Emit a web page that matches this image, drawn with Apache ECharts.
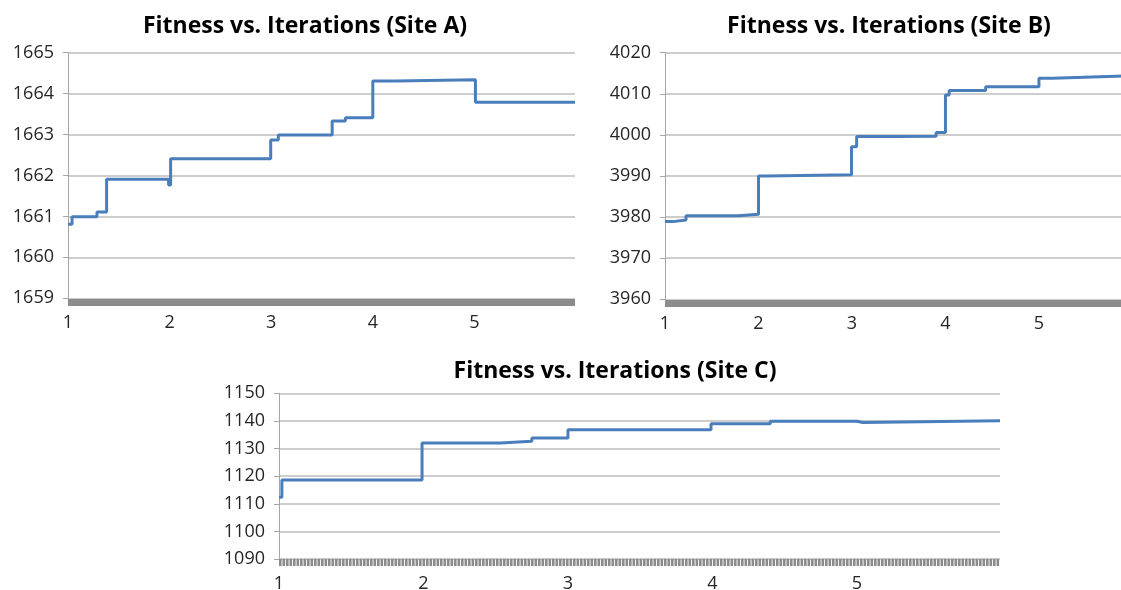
<!DOCTYPE html>
<html>
<head>
<meta charset="utf-8">
<script src="https://cdn.jsdelivr.net/npm/echarts@6/dist/echarts.min.js"></script>
<style>
  html, body { margin: 0; padding: 0; background: #ffffff; overflow: hidden; width: 1121px; height: 590px; }
  #chart { width: 1160px; height: 590px; }
</style>
</head>
<body>
<div id="chart"></div>
<script>
// ---- Data ----
const titles = ['Fitness vs. Iterations (Site A)', 'Fitness vs. Iterations (Site B)', 'Fitness vs. Iterations (Site C)'];

// Site A: iteration positions where the fitness changes, and the fitness value
const xA = [1, 1.04, 1.285, 1.38, 1.99, 2.01, 2.995, 3.07, 3.6, 3.73, 4.0, 4.23, 5.01, 5.99];
const yA = [1660.81, 1660.99, 1661.11, 1661.91, 1661.77, 1662.41, 1662.87, 1662.99, 1663.33, 1663.41, 1664.31, 1664.34, 1663.79, 1663.79];

// Site B
const xB = [1, 1.085, 1.225, 1.78, 2.0, 2.09, 2.995, 3.05, 3.51, 3.9, 4.0, 4.04, 4.43, 5.0, 5.15, 5.57, 5.99];
const yB = [3978.9, 3979.3, 3980.3, 3980.7, 3990.0, 3990.3, 3997.1, 3999.6, 3999.7, 4000.6, 4009.7, 4010.8, 4011.7, 4013.8, 4014.1, 4014.4, 4014.4];

// Site C
const xC = [1, 1.02, 1.99, 2.53, 2.75, 3.0, 3.99, 4.4, 5.0, 5.04, 5.99];
const yC = [1112.4, 1118.6, 1132.0, 1132.6, 1133.8, 1136.8, 1139.0, 1139.9, 1139.4, 1140.1, 1140.1];

// Axis ranges / ticks
const yRanges = [
  { min: 1659, max: 1665, interval: 1 },
  { min: 3960, max: 4020, interval: 10 },
  { min: 1090, max: 1150, interval: 10 }
];
const xRange = { min: 1, max: 5.99, interval: 1 };

// ---- Styling ----
const FONT = '"Open Sans", Lato, "DejaVu Sans", sans-serif';
const lineColor = '#4a7ebb';
const gridBoxes = [
  { left: 68, top: 52.7, width: 507, height: 245.6 },
  { left: 665, top: 52.7, width: 466.5, height: 246.6 },
  { left: 279, top: 393.3, width: 721, height: 165.7 }
];
const titlePos = [[305, 26], [889, 26], [615, 371]];
const pairs = (xs, ys) => xs.map((x, i) => [x, ys[i]]);
const seriesData = [pairs(xA, yA), pairs(xB, yB), pairs(xC, yC)];

const chart = echarts.init(document.getElementById('chart'), null, { renderer: 'canvas' });

const option = {
  animation: false,
  backgroundColor: '#ffffff',
  graphic: titles.map((t, i) => ({
    type: 'text',
    x: titlePos[i][0],
    y: titlePos[i][1],
    style: {
      text: t,
      fill: '#000000',
      font: 'bold 23px ' + FONT,
      textAlign: 'center',
      textVerticalAlign: 'middle'
    }
  })),
  grid: gridBoxes.map(g => Object.assign({ containLabel: false, outerBoundsMode: 'none' }, g)),
  xAxis: [0, 1, 2].map(i => ({
    type: 'value',
    gridIndex: i,
    min: xRange.min,
    max: xRange.max,
    interval: xRange.interval,
    offset: 3.5,
    axisLine: {
      show: true,
      onZero: false,
      lineStyle: i === 2
        ? { color: '#8c8c8c', width: 7, type: [2.6, 0.9], cap: 'butt' }
        : { color: '#8c8c8c', width: 7, cap: 'butt' }
    },
    axisTick: { show: false },
    splitLine: { show: false },
    axisLabel: {
      margin: i === 2 ? 12.5 : 12,
      showMaxLabel: false,
      fontFamily: FONT,
      fontSize: 18,
      color: '#262626',
      formatter: v => String(v)
    }
  })),
  yAxis: [0, 1, 2].map(i => ({
    type: 'value',
    gridIndex: i,
    min: yRanges[i].min,
    max: yRanges[i].max,
    interval: yRanges[i].interval,
    axisLine: { show: true, lineStyle: { color: '#a6a6a6', width: 1 } },
    axisTick: { show: true, length: 5, lineStyle: { color: '#a6a6a6' } },
    splitLine: { show: true, lineStyle: { color: '#bcbcbc', width: 1.5 } },
    axisLabel: {
      margin: 14,
      fontFamily: FONT,
      fontSize: 18,
      color: '#262626',
      formatter: v => String(v)
    }
  })),
  series: seriesData.map((d, i) => ({
    type: 'line',
    xAxisIndex: i,
    yAxisIndex: i,
    data: d,
    step: 'end',
    showSymbol: false,
    symbol: 'none',
    lineStyle: { color: lineColor, width: 3 },
    clip: true
  }))
};

chart.setOption(option);
</script>
</body>
</html>
